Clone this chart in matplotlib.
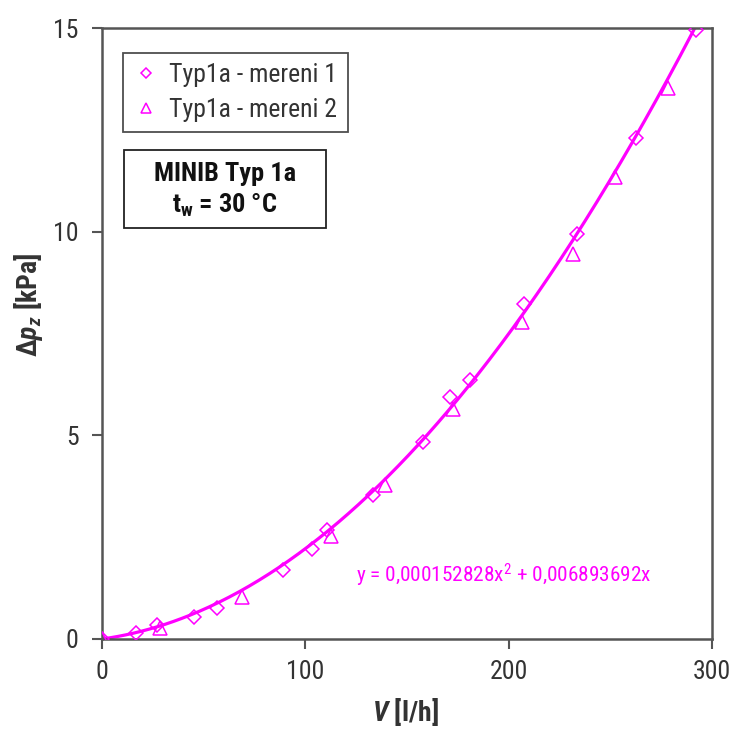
import matplotlib
matplotlib.use("Agg")
import matplotlib.pyplot as plt
import numpy as np
from matplotlib import font_manager
from matplotlib.patches import Rectangle

names = {f.name for f in font_manager.fontManager.ttflist}
fam = "Liberation Sans"
for cand in ["Liberation Sans Narrow", "Arial Narrow", "Roboto Condensed", "PT Sans Narrow", "Archivo Narrow", "Barlow Condensed"]:
    if cand in names:
        fam = cand
        break
plt.rcParams['font.family'] = [fam, 'DejaVu Sans']
plt.rcParams['mathtext.fontset'] = 'custom'
plt.rcParams['mathtext.rm'] = fam
plt.rcParams['mathtext.it'] = fam + ':italic'
plt.rcParams['mathtext.bf'] = fam + ':bold'
plt.rcParams['mathtext.bfit'] = fam + ':italic:bold'

# Data
x1 = [0, 16.6, 27, 45, 56.4, 89.2, 103.1, 110.5, 133.5, 157.7, 171.2, 181, 207.6, 233.5, 262.7, 292.2]
y1 = [0, 0.14, 0.34, 0.55, 0.75, 1.69, 2.22, 2.67, 3.53, 4.84, 5.94, 6.35, 8.23, 9.94, 12.31, 14.94]
x2 = [0, 28.5, 68.7, 112.5, 139.2, 172.8, 206.4, 231.5, 252.3, 278.6]
y2 = [0, 0.26, 1.02, 2.52, 3.79, 5.65, 7.78, 9.45, 11.33, 13.52]
a2, a1 = 0.000152828, 0.006893692
x_fit_max = 292.2
xticks = [0, 100, 200, 300]
yticks = [0, 5, 10, 15]
label1 = "Typ1a - mereni 1"
label2 = "Typ1a - mereni 2"

mag = "#FF00FF"
gray = "#555555"
txt = "#333333"

W, H = 734, 731
fig = plt.figure(figsize=(W/100, H/100), dpi=100)
L, R, T, B = 102, 712, 28, 639
ax = fig.add_axes([L/W, 1 - B/H, (R-L)/W, (B-T)/H])

def ax_xy(px, py):
    return (px - L)/(R - L), (B - py)/(B - T)

xf = np.linspace(0, x_fit_max, 300)
ax.plot(xf, a2*xf**2 + a1*xf, color=mag, lw=2.3, zorder=2)
ax.plot(x1, y1, linestyle='none', marker='D', ms=7, mfc='none', mec=mag, mew=1.1, label=label1, zorder=3)
ax.plot(x2, y2, linestyle='none', marker='^', ms=9.5, mfc='none', mec=mag, mew=1.1, label=label2, zorder=3)

ax.set_xlim(0, 300)
ax.set_ylim(0, 15)
ax.set_xticks(xticks)
ax.set_yticks(yticks)
for s in ax.spines.values():
    s.set_color(gray)
    s.set_linewidth(1.8)
ax.tick_params(direction='out', length=7, width=1.5, color=gray, labelsize=18.5, labelcolor=txt)
ax.tick_params(axis='x', pad=8)
ax.tick_params(axis='y', pad=10)

ax.set_xlabel(r"$\mathbfit{V}$ [l/h]", fontsize=20, fontweight='bold', color=txt)
ax.set_ylabel(r"$\mathbf{\Delta}\mathbfit{p}_\mathbfit{z}$ [kPa]", fontsize=20, fontweight='bold', color=txt)
ax.xaxis.set_label_coords(*ax_xy(405, 712))
ax.yaxis.set_label_coords(*ax_xy(28, 305))
ax.xaxis.label.set_va('center')
ax.yaxis.label.set_va('center')

leg = ax.legend(loc='upper left', bbox_to_anchor=ax_xy(123, 53), fontsize=18.5,
                frameon=True, fancybox=False, edgecolor='#222222', handletextpad=0.4,
                borderpad=0.4, handlelength=1.0, labelspacing=0.4, borderaxespad=0,
                markerscale=0.75)
leg.get_frame().set_linewidth(1.3)
for t in leg.get_texts():
    t.set_color(txt)

bx0, by0 = ax_xy(124, 228)
bx1, by1 = ax_xy(326, 150)
ax.add_patch(Rectangle((bx0, by0), bx1 - bx0, by1 - by0, transform=ax.transAxes,
                       fc='white', ec='#222222', lw=1.3, zorder=5))
ax.text(*ax_xy(225, 174), "MINIB Typ 1a", transform=ax.transAxes, ha='center', va='center',
        fontsize=19, fontweight='bold', color='#111111', zorder=6)
ax.text(*ax_xy(225, 205), r"t$_\mathbf{w}$ = 30 °C", transform=ax.transAxes, ha='center', va='center',
        fontsize=19, fontweight='bold', color='#111111', zorder=6)

ax.text(*ax_xy(504, 575), r"y = 0,000152828x$^\mathregular{2}$ + 0,006893692x", color=mag,
        fontsize=15.3, ha='center', va='center', transform=ax.transAxes)

fig.savefig("out.png", dpi=100)
